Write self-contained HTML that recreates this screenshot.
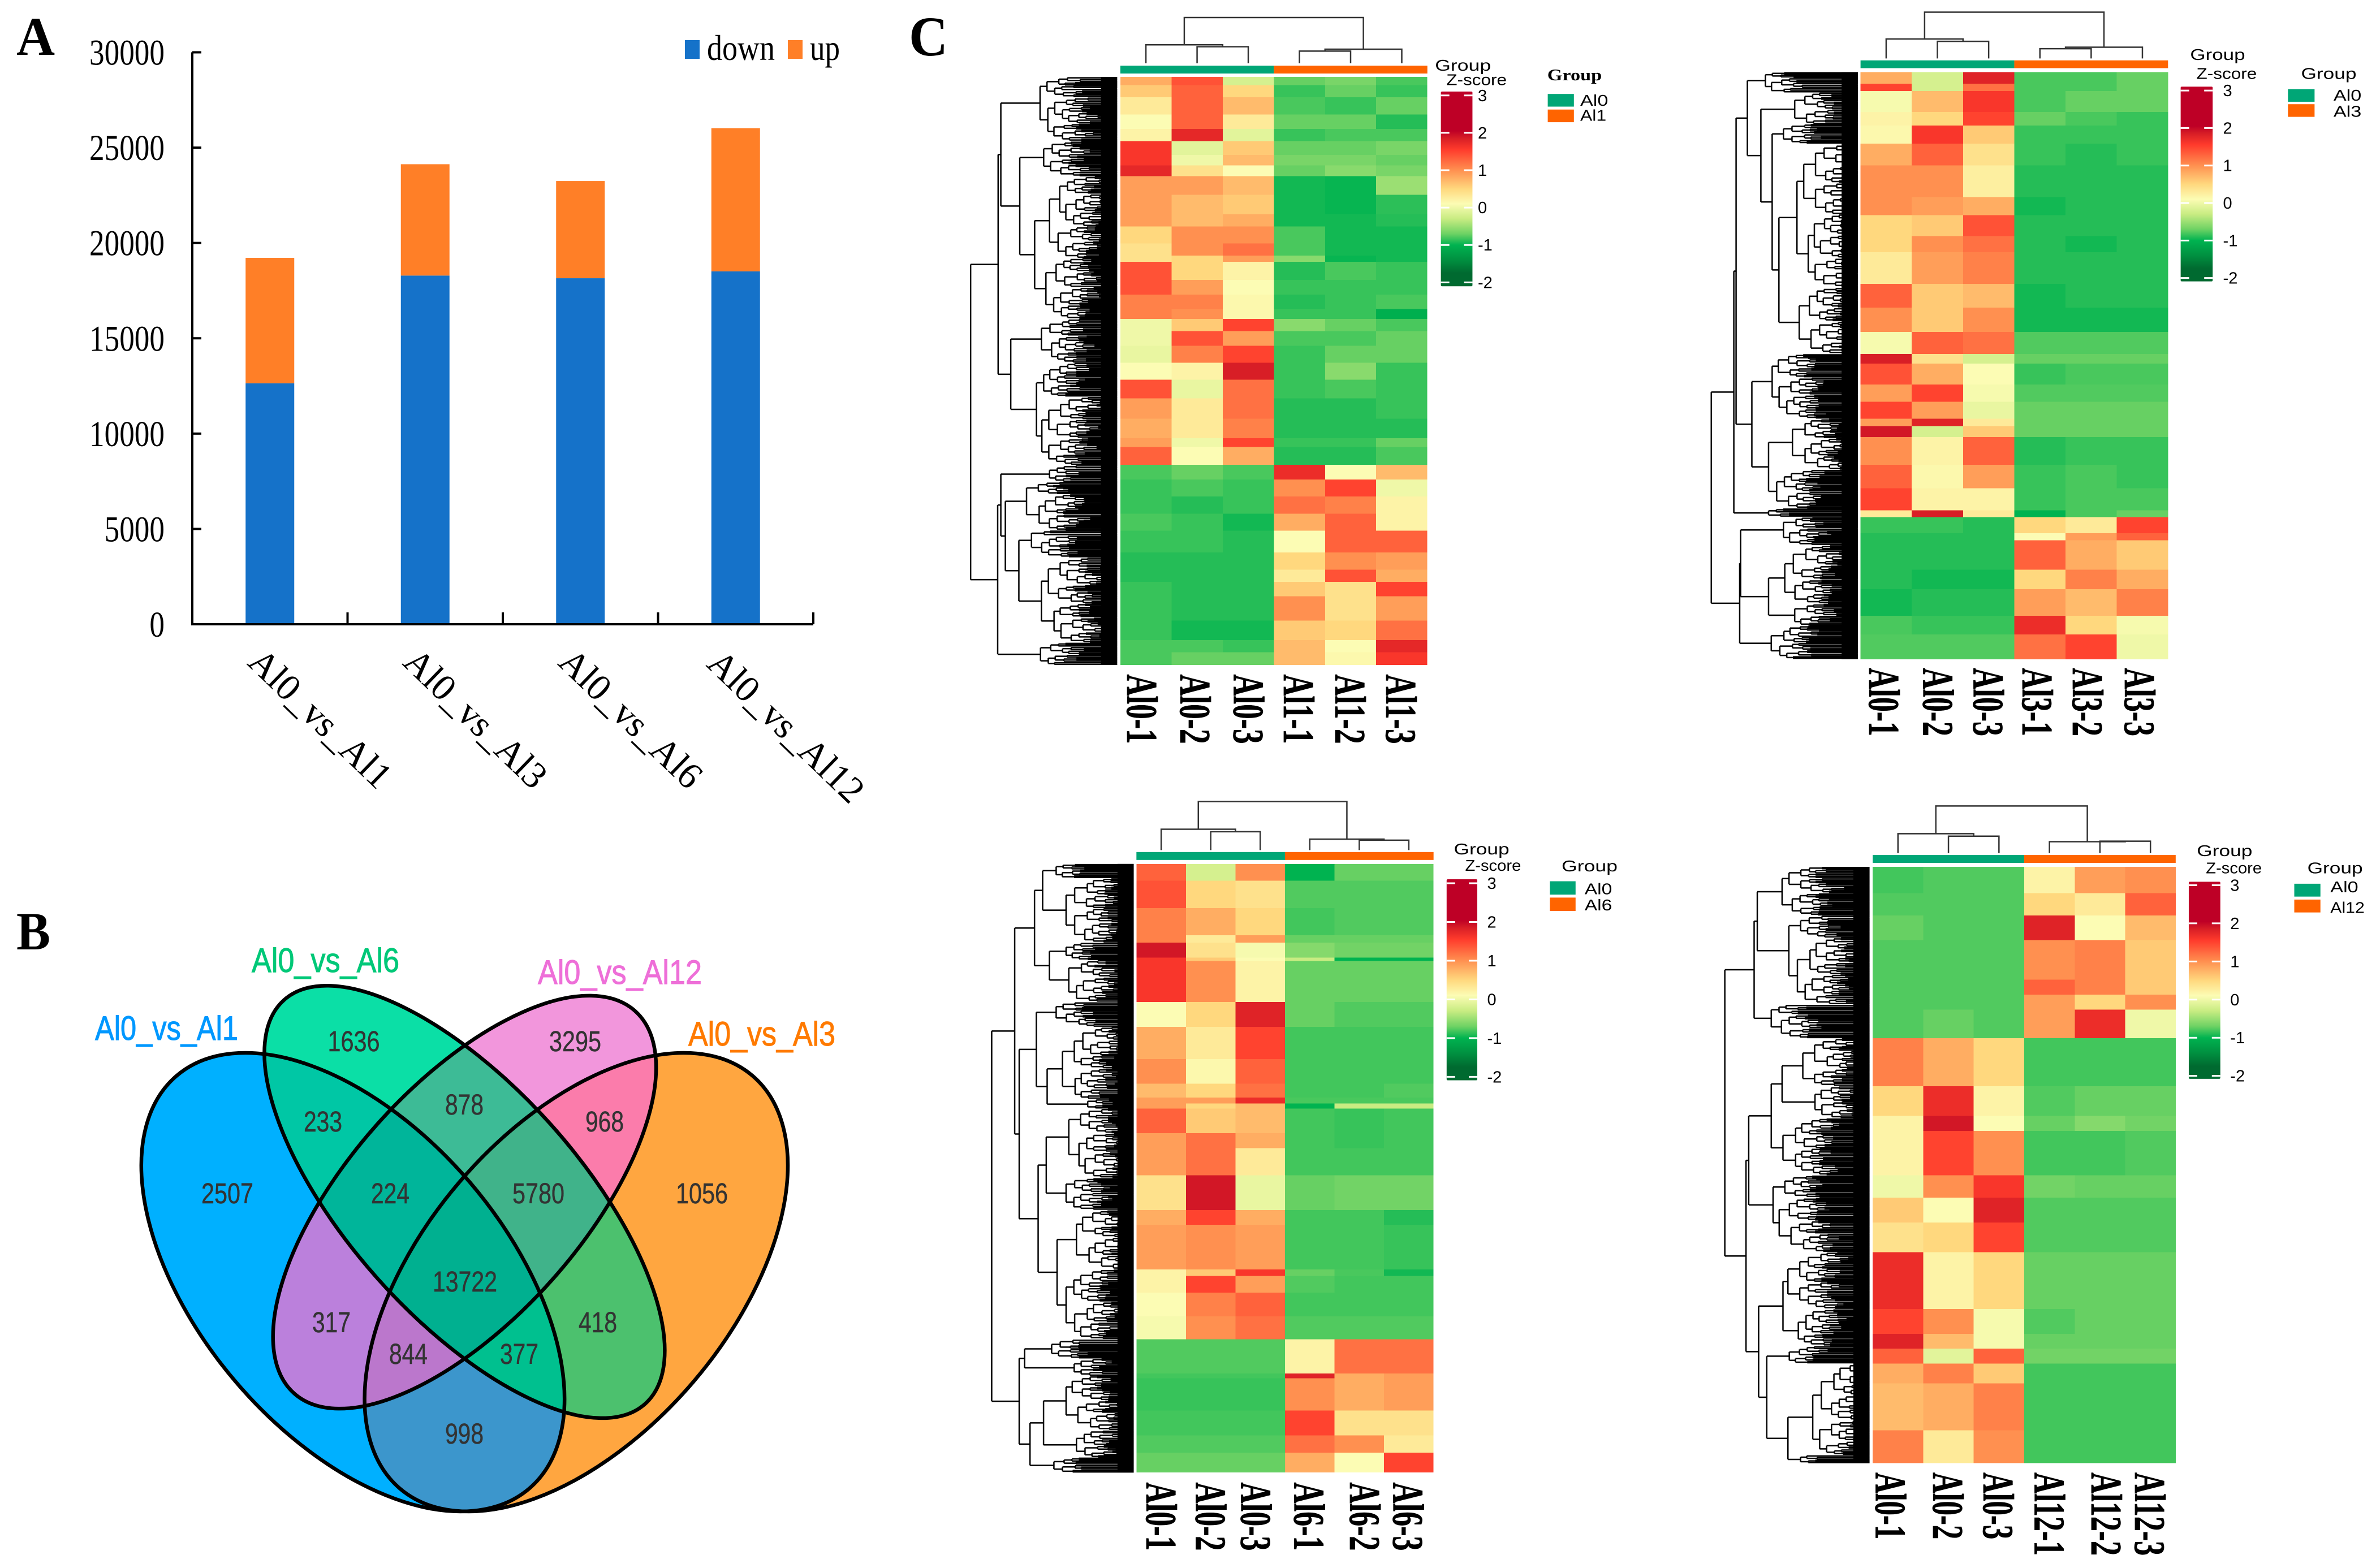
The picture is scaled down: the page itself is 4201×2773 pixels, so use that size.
<!DOCTYPE html>
<html lang="en">
<head>
<meta charset="utf-8">
<title>Al stress figure</title>
<style>
html,body{margin:0;padding:0;background:#fff}
svg{display:block}
.serif{font-family:"Liberation Serif",serif}
.sans{font-family:"Liberation Sans",sans-serif}
</style>
</head>
<body>
<svg id="fig" xmlns="http://www.w3.org/2000/svg" width="4201" height="2773" viewBox="0 0 4201 2773">
<rect width="4201" height="2773" fill="#fff"/>
<text class="serif" x="29" y="97" font-size="96" font-weight="bold" textLength="68" lengthAdjust="spacingAndGlyphs">A</text>
<text class="serif" x="29" y="1679" font-size="95" font-weight="bold" textLength="60" lengthAdjust="spacingAndGlyphs">B</text>
<text class="serif" x="1607" y="98" font-size="100" font-weight="bold" textLength="69" lengthAdjust="spacingAndGlyphs">C</text>

<g id="barChart"></g>

<g id="venn">
<defs>
<clipPath id="cb"><ellipse cx="624" cy="2267.5" rx="480" ry="272" transform="rotate(49.5 624 2267.5)"/></clipPath>
<clipPath id="co"><ellipse cx="1018.8" cy="2267.5" rx="480" ry="272" transform="rotate(-49.5 1018.8 2267.5)"/></clipPath>
<clipPath id="cg"><ellipse cx="821.4" cy="2125.6" rx="479" ry="205" transform="rotate(48.2 821.4 2125.6)"/></clipPath>
<clipPath id="cp"><ellipse cx="821.4" cy="2126" rx="453" ry="207" transform="rotate(-48.3 821.4 2126)"/></clipPath>
</defs>
<g clip-path="url(#cb)"><rect x="200" y="1700" width="1250" height="1000" fill="#00b0ff"/></g>
<g clip-path="url(#co)"><rect x="200" y="1700" width="1250" height="1000" fill="#ffa640"/></g>
<g clip-path="url(#cg)"><rect x="200" y="1700" width="1250" height="1000" fill="#0bdfa6"/></g>
<g clip-path="url(#cp)"><rect x="200" y="1700" width="1250" height="1000" fill="#f296dc"/></g>
<g clip-path="url(#cb)"><g clip-path="url(#cg)"><rect x="200" y="1700" width="1250" height="1000" fill="#00c7a5"/></g></g>
<g clip-path="url(#cb)"><g clip-path="url(#cp)"><rect x="200" y="1700" width="1250" height="1000" fill="#bb80dc"/></g></g>
<g clip-path="url(#cb)"><g clip-path="url(#co)"><rect x="200" y="1700" width="1250" height="1000" fill="#3c96cc"/></g></g>
<g clip-path="url(#cg)"><g clip-path="url(#cp)"><rect x="200" y="1700" width="1250" height="1000" fill="#3dbb96"/></g></g>
<g clip-path="url(#cg)"><g clip-path="url(#co)"><rect x="200" y="1700" width="1250" height="1000" fill="#4cc16e"/></g></g>
<g clip-path="url(#cp)"><g clip-path="url(#co)"><rect x="200" y="1700" width="1250" height="1000" fill="#fb7cab"/></g></g>
<g clip-path="url(#cb)"><g clip-path="url(#cg)"><g clip-path="url(#cp)"><rect x="200" y="1700" width="1250" height="1000" fill="#00b59a"/></g></g></g>
<g clip-path="url(#cb)"><g clip-path="url(#cg)"><g clip-path="url(#co)"><rect x="200" y="1700" width="1250" height="1000" fill="#00c08f"/></g></g></g>
<g clip-path="url(#cb)"><g clip-path="url(#cp)"><g clip-path="url(#co)"><rect x="200" y="1700" width="1250" height="1000" fill="#bb77cc"/></g></g></g>
<g clip-path="url(#cg)"><g clip-path="url(#cp)"><g clip-path="url(#co)"><rect x="200" y="1700" width="1250" height="1000" fill="#40b38a"/></g></g></g>
<g clip-path="url(#cb)"><g clip-path="url(#cg)"><g clip-path="url(#cp)"><g clip-path="url(#co)"><rect x="200" y="1700" width="1250" height="1000" fill="#00b090"/></g></g></g></g>
<g fill="none" stroke="#000" stroke-width="6.5">
<ellipse cx="624" cy="2267.5" rx="480" ry="272" transform="rotate(49.5 624 2267.5)"/>
<ellipse cx="1018.8" cy="2267.5" rx="480" ry="272" transform="rotate(-49.5 1018.8 2267.5)"/>
<ellipse cx="821.4" cy="2125.6" rx="479" ry="205" transform="rotate(48.2 821.4 2125.6)"/>
<ellipse cx="821.4" cy="2126" rx="453" ry="207" transform="rotate(-48.3 821.4 2126)"/>
</g>
<g class="sans" font-size="60" stroke-width="1">
<text x="168" y="1839" fill="#0098ff" stroke="#0098ff" textLength="253" lengthAdjust="spacingAndGlyphs">Al0_vs_Al1</text>
<text x="445" y="1719" fill="#00c878" stroke="#00c878" textLength="261" lengthAdjust="spacingAndGlyphs">Al0_vs_Al6</text>
<text x="951" y="1740" fill="#ee6fd8" stroke="#ee6fd8" textLength="290" lengthAdjust="spacingAndGlyphs">Al0_vs_Al12</text>
<text x="1217" y="1849" fill="#ff7a00" stroke="#ff7a00" textLength="260" lengthAdjust="spacingAndGlyphs">Al0_vs_Al3</text>
</g>
<g class="sans" font-size="51" fill="#333" stroke="#333" stroke-width=".5" text-anchor="middle">
<text x="402" y="2128" textLength="92" lengthAdjust="spacingAndGlyphs">2507</text>
<text x="625.5" y="1859" textLength="92" lengthAdjust="spacingAndGlyphs">1636</text>
<text x="1017" y="1859" textLength="92" lengthAdjust="spacingAndGlyphs">3295</text>
<text x="1241" y="2128" textLength="92" lengthAdjust="spacingAndGlyphs">1056</text>
<text x="571" y="2001" textLength="68" lengthAdjust="spacingAndGlyphs">233</text>
<text x="821" y="1971" textLength="68" lengthAdjust="spacingAndGlyphs">878</text>
<text x="1069" y="2001" textLength="68" lengthAdjust="spacingAndGlyphs">968</text>
<text x="690" y="2128" textLength="68" lengthAdjust="spacingAndGlyphs">224</text>
<text x="952" y="2128" textLength="92" lengthAdjust="spacingAndGlyphs">5780</text>
<text x="822" y="2284" textLength="114" lengthAdjust="spacingAndGlyphs">13722</text>
<text x="586" y="2356" textLength="68" lengthAdjust="spacingAndGlyphs">317</text>
<text x="1057" y="2356" textLength="68" lengthAdjust="spacingAndGlyphs">418</text>
<text x="722" y="2412" textLength="68" lengthAdjust="spacingAndGlyphs">844</text>
<text x="918" y="2412" textLength="68" lengthAdjust="spacingAndGlyphs">377</text>
<text x="821" y="2553" textLength="68" lengthAdjust="spacingAndGlyphs">998</text>
</g>
</g>

<g id="heatmaps"></g>
</svg>

<script>
/* ---------- Panel A data ---------- */
const barCategories = ['Al0_vs_Al1', 'Al0_vs_Al3', 'Al0_vs_Al6', 'Al0_vs_Al12'];
const downValues = [12640, 18290, 18150, 18510];
const upValues = [6580, 5840, 5100, 7510];
const yTickValues = [0, 5000, 10000, 15000, 20000, 25000, 30000];

/* ---------- Panel C data: gene counts per row cluster and z-scores per sample ---------- */
const zLegendTicks = [3, 2, 1, 0, -1, -2];

const hm1Samples = ['Al0-1','Al0-2','Al0-3','Al1-1','Al1-2','Al1-3'];
const hm1Groups = ['Al0','Al1'];
const hm1Counts = [17,25,35,30,25,28,22,22,38,40,25,35,25,13,37,30,30,20,25,30,35,35,38,42,40,18,37,30,35,35,35,45,35,25,30,50,40,25,26];
const hm1Z = [
[.8,1.4,-.2,-.72,-.65,-.8],[.6,1.3,.5,-.85,-.72,-.85],[.3,1.3,.7,-.8,-.85,-.72],[.1,1.3,.3,-.72,-.72,-.9],[.2,1.75,-.1,-.85,-.8,-.8],
[1.6,-.1,.6,-.72,-.72,-.65],[1.6,0,.7,-.65,-.65,-.72],[1.75,.4,.1,-.72,-.58,-.65],[.9,.9,.7,-.95,-.98,-.5],[.9,.7,.6,-.95,-.98,-.88],
[.9,.7,.8,-.95,-.95,-.9],[.5,1,1,-.8,-.95,-.95],[.4,1,1.2,-.8,-.95,-.95],[.4,.5,.9,-.58,-.98,-.95],[1.4,.5,.2,-.9,-.8,-.85],
[1.4,.9,.1,-.85,-.85,-.85],[1.1,1.1,.15,-.9,-.85,-.8],[1.1,1,.15,-.85,-.85,-1.05],[0,.6,1.5,-.58,-.72,-.8],[0,1.4,.9,-.8,-.8,-.72],
[-.05,1.1,1.5,-.85,-.72,-.72],[.1,.2,1.85,-.85,-.58,-.85],[1.4,-.05,1.2,-.85,-.8,-.85],[.9,.3,1.2,-.9,-.9,-.85],[.8,.3,1.1,-.9,-.9,-.9],
[.9,0,1.5,-.85,-.85,-.72],[1.3,.1,.8,-.9,-.9,-.8],[-.8,-.72,-.8,1.7,.1,.7],[-.85,-.8,-.85,1,1.5,0],[-.85,-.9,-.85,1.2,1.1,.2],
[-.8,-.85,-.95,.8,1.3,.2],[-.85,-.85,-.9,.1,1.3,1.3],[-.9,-.9,-.9,.5,1,.9],[-.9,-.9,-.9,.3,1.4,.8],[-.85,-.9,-.9,.6,.4,1.5],
[-.85,-.9,-.9,1,.4,.9],[-.85,-.95,-.95,.6,.5,1.2],[-.8,-.8,-.85,.7,.1,1.75],[-.8,-.72,-.72,.7,.15,1.6]];

const hm2Samples = ['Al0-1','Al0-2','Al0-3','Al3-1','Al3-2','Al3-3'];
const hm2Groups = ['Al0','Al3'];
const hm2Counts = [24,15,43,28,37,45,65,37,43,33,65,49,50,45,20,43,35,35,15,23,57,48,45,14,33,15,60,40,55,38,51];
const hm2Z = [
[.8,-.2,1.8,-.8,-.8,-.72],[1.5,-.2,1.2,-.8,-.8,-.72],[.05,.7,1.6,-.8,-.72,-.72],[.2,.5,1.5,-.72,-.8,-.85],[.15,1.6,.6,-.85,-.85,-.85],
[.8,1.3,.4,-.85,-.9,-.85],[1,1,.25,-.9,-.9,-.9],[1,.9,.8,-.95,-.9,-.9],[.5,.6,1.4,-.9,-.9,-.9],[.5,1,1.2,-.9,-.95,-.9],
[.3,.9,1.1,-.9,-.9,-.9],[1.3,.6,.7,-.95,-.9,-.9],[1,.6,1,-.95,-.95,-.95],[.05,1.3,1.2,-.78,-.78,-.78],[1.85,.4,-.2,-.72,-.72,-.72],
[1.4,.8,.1,-.85,-.8,-.8],[.9,1.5,.05,-.78,-.78,-.78],[1.5,.9,-.05,-.72,-.72,-.72],[.9,1.8,.3,-.72,-.72,-.72],[1.9,-.2,.6,-.72,-.72,-.72],
[1,.2,1.3,-.9,-.85,-.85],[1.3,.15,.9,-.85,-.8,-.85],[1.5,.2,.2,-.85,-.8,-.8],[.3,1.85,.3,-1,-.8,-.72],[-.85,-.85,-.9,.5,.3,1.5],
[-.9,-.9,-.9,.1,.9,1.3],[-.9,-.9,-.9,1.3,.8,.6],[-.9,-.95,-.95,.5,1.1,.8],[-.95,-.9,-.9,.9,.7,1.1],[-.8,-.85,-.85,1.7,.5,.05],[-.78,-.78,-.78,1.2,1.5,0]];

const hm3Samples = ['Al0-1','Al0-2','Al0-3','Al6-1','Al6-2','Al6-3'];
const hm3Groups = ['Al0','Al6'];
const hm3Counts = [34,55,55,15,30,7,83,50,65,50,28,12,10,50,30,55,70,30,90,13,34,48,46,69,10,65,50,35,40];
const hm3Z = [
[1.3,-.2,1,-1,-.72,-.72],[1.4,.5,.4,-.78,-.78,-.78],[1.1,.8,.5,-.82,-.78,-.78],[1.1,.3,.9,-.72,-.72,-.72],[1.9,.4,.05,-.6,-.68,-.68],
[1.6,.6,.1,-.3,-1,-1],[1.6,1,.2,-.72,-.72,-.72],[.1,.5,1.8,-.72,-.78,-.78],[.8,.3,1.5,-.82,-.82,-.82],[1,.15,1.3,-.82,-.82,-.82],
[.7,.5,1.2,-.82,-.82,-.78],[.9,.9,1.7,-.8,-.8,-.8],[.9,.5,.7,-1,-.3,-.3],[1.3,.6,.7,-.82,-.85,-.82],[.9,1.2,.8,-.82,-.85,-.82],
[.9,1.2,.3,-.82,-.82,-.82],[.4,1.9,-.05,-.72,-.68,-.68],[.8,1.5,.8,-.82,-.82,-.9],[.9,1,.9,-.82,-.82,-.85],[.2,.6,1.6,-.72,-.8,-.95],
[.2,1.5,.9,-.78,-.82,-.82],[.1,1.1,1.3,-.82,-.82,-.82],[.05,1,1.2,-.78,-.78,-.78],[-.78,-.78,-.78,.2,1.2,1.2],[-.82,-.82,-.82,1.8,.8,.9],
[-.85,-.85,-.85,1,.8,.9],[-.82,-.82,-.82,1.5,.4,.4],[-.78,-.78,-.78,1.2,1,.3],[-.72,-.72,-.72,.8,.1,1.5]];

const hm4Samples = ['Al0-1','Al0-2','Al0-3','Al12-1','Al12-2','Al12-3'];
const hm4Groups = ['Al0','Al12'];
const hm4Counts = [53,45,50,80,30,30,58,97,60,30,90,45,50,60,115,50,30,30,40,95,66];
const hm4Z = [
[-.82,-.78,-.78,.2,.9,1],[-.78,-.78,-.78,.5,.3,1.3],[-.72,-.78,-.78,1.8,.1,.7],[-.78,-.78,-.78,1,1.1,.6],[-.78,-.78,-.78,1.3,1.1,.6],
[-.78,-.78,-.78,.9,.5,1],[-.78,-.72,-.78,.9,1.7,0],[1.1,.8,.5,-.82,-.82,-.82],[.5,1.7,.2,-.78,-.72,-.72],[.2,1.9,.1,-.72,-.6,-.68],
[.2,1.5,1,-.82,-.82,-.78],[0,1,1.6,-.68,-.72,-.72],[.6,.1,1.8,-.78,-.78,-.78],[.4,.5,1.5,-.78,-.78,-.78],[1.7,.2,.5,-.72,-.72,-.72],
[1.5,1,.05,-.78,-.72,-.72],[1.8,.7,.05,-.72,-.72,-.72],[1.3,-.1,1.3,-.68,-.68,-.68],[.8,1.1,.6,-.82,-.82,-.82],[.7,.8,1.1,-.82,-.82,-.82],[1.1,.3,1,-.82,-.82,-.82]];

/* sample dendrograms: [height, childA, childB]; a number is a column index */
const hm1ColTree = [94,[38,0,[34,1,2]],[29,[25,3,4],5]];
const hm2ColTree = [95,[40,0,[35,1,2]],[23,[20,3,4],5]];
const hm3ColTree = [98,[42,0,[37,1,2]],[22,3,[20,4,5]]];
const hm4ColTree = [95,[39,0,[34,1,2]],[23,3,[24,4,5]]];

/* gene dendrograms: [depth, childA, childB]; a [from, to] pair is a leaf cluster */
const hm1RowTree = [83,[144,[150,[237,[158,200],[200,290]],[192,[245,[290,325],[325,362]],[225,[258,[362,465],[465,530]],[250,[530,590],[590,655]]]]],
[172,[240,[655,690],[690,745]],[229,[245,[745,790],[790,815]],[241,[815,900],[900,955]]]]],
[143,[150,[258,[955,975],[975,990]],[160,[207,[990,1015],[1015,1090]],[190,[218,[1090,1100],[1100,1145]],[240,[1145,1240],[1240,1320]]]]],[238,[1320,1345],[1345,1366]]]];
const hm2RowTree = [95,[145,[150,[175,[215,[148,160],[160,190]],[205,[280,[190,225],[225,255]],[230,[255,[255,275],[275,295]],[245,[285,[300,[295,375],[375,440]],[310,[440,530],[530,590]]],[290,[590,660],[660,727]]]]]],
[185,[230,[727,775],[775,860]],[222,[275,[860,900],[900,965]],[240,[965,1010],[1010,1045]]]]],[222,[1045,1053],[1053,1062]]],
[158,[160,[255,[1062,1085],[1085,1120]],[222,[258,[1120,1190],[1190,1240]],[280,[1240,1265],[1265,1285]]]],[228,[1285,1320],[1320,1354]]]];
const hm3RowTree = [67,[118,[162,[180,[210,[146,158],[158,175]],[232,[175,235],[235,305]]],[195,[232,[305,322],[322,340]],[238,[340,375],[375,425]]]],
[128,[166,[210,[425,442],[442,475]],[190,[224,[475,560],[560,620]],[280,[620,632],[632,640]]]],[170,[188,[238,[640,690],[690,780]],[232,[780,810],[810,845]]],[212,[255,[845,900],[900,965]],[232,[965,1030],[1030,1106]]]]]],
[128,[140,[200,[1106,1125],[1125,1145]],[250,[1145,1165],[1165,1180]]],[152,[182,[232,[1180,1230],[1230,1290]],[255,[1290,1320],[1320,1345]]],[205,[1345,1360],[1360,1375]]]]];
const hm4RowTree = [125,[190,[197,[252,[152,205],[205,250]],[267,[250,295],[295,430]]],[228,[430,450],[450,498]]],
[172,[178,[228,[252,[298,[498,560],[560,595]],[325,[595,625],[625,660]]],[254,[660,720],[720,775]]],[232,[775,820],[820,930]]],
[200,[254,[265,[930,990],[990,1045]],[288,[1045,1095],[1095,1120]]],[218,[268,[1120,1140],[1140,1155]],[265,[320,[1155,1270],[1270,1340]],[1340,1356]]]]]];

/* ---------- helpers ---------- */
const NS = 'http://www.w3.org/2000/svg';
function mk(tag, attrs, parent, text) {
  const n = document.createElementNS(NS, tag);
  for (const k in attrs) n.setAttribute(k, attrs[k]);
  if (text !== undefined) n.textContent = text;
  if (parent) parent.appendChild(n);
  return n;
}

/* ---------- Panel A ---------- */
(function () {
  const root = document.getElementById('barChart');
  const axisX = 340, axisRight = 1438, axisBottom = 1104, axisTop = 92.5, yMax = 30000;
  const yScale = v => axisBottom - v / yMax * (axisBottom - axisTop);
  const band = (axisRight - axisX) / barCategories.length;
  const xCenter = i => axisX + (i + .5) * band;
  const barW = 86;
  const rotatedY = [1272, 1272, 1272, 1286];

  barCategories.forEach((c, i) => {
    const d = mk('rect', {x: xCenter(i) - barW / 2, y: yScale(downValues[i]), width: barW, height: yScale(0) - yScale(downValues[i]), fill: '#1572c9'}, root);
    
    
    const u = mk('rect', {x: xCenter(i) - barW / 2, y: yScale(downValues[i] + upValues[i]), width: barW, height: yScale(downValues[i]) - yScale(downValues[i] + upValues[i]), fill: '#ff7f27'}, root);
    
    
    const cx = xCenter(i) + 88;
    const t = mk('text', {class: 'serif', 'font-size': 66, 'text-anchor': 'middle', transform: 'translate(' + cx + ' ' + rotatedY[i] + ') rotate(44)', y: 20}, root, c);
    
    
  });

  const ya = mk('path', {d: 'M' + axisX + ' ' + axisTop + 'V' + axisBottom, stroke: '#000', 'stroke-width': 4, fill: 'none'}, root);
  
  
  const xa = mk('path', {d: 'M' + (axisX - 2) + ' ' + axisBottom + 'H' + axisRight, stroke: '#000', 'stroke-width': 4, fill: 'none'}, root);
  
  

  yTickValues.forEach(v => {
    const tk = mk('path', {d: 'M' + axisX + ' ' + yScale(v) + 'h16', stroke: '#000', 'stroke-width': 4}, root);
    
    
    const s = String(v);
    const lb = mk('text', {class: 'serif', x: 291, y: yScale(v) + 22, 'font-size': 65, 'text-anchor': 'end', textLength: 26.6 * s.length, lengthAdjust: 'spacingAndGlyphs'}, root, s);
    
    
  });
  barCategories.forEach((c, i) => {
    const tk = mk('path', {d: 'M' + (axisX + (i + 1) * band) + ' ' + axisBottom + 'v-21', stroke: '#000', 'stroke-width': 4}, root);
    
    
  });

  const s1 = mk('rect', {x: 1211, y: 71, width: 26, height: 33, fill: '#1572c9'}, root);
  
  
  const t1 = mk('text', {class: 'serif', x: 1250, y: 106, 'font-size': 64, textLength: 120, lengthAdjust: 'spacingAndGlyphs'}, root, 'down');
  
  
  const s2 = mk('rect', {x: 1393, y: 71, width: 26, height: 33, fill: '#ff7f27'}, root);
  
  
  const t2 = mk('text', {class: 'serif', x: 1432, y: 106, 'font-size': 64, textLength: 53, lengthAdjust: 'spacingAndGlyphs'}, root, 'up');
  
  
})();

/* ---------- Panel C ---------- */
const colorStops = [[3,[190,0,38]],[2.05,[190,0,38]],[1.85,[216,30,38]],[1.55,[255,59,44]],[1,[255,144,80]],[.5,[255,216,126]],[.1,[252,252,180]],[-.3,[200,236,130]],[-.7,[110,210,100]],[-1,[0,179,80]],[-1.4,[0,144,64]],[-1.75,[0,106,48]],[-2,[0,106,48]]];
function zColor(z) {
  const c = Math.max(-2, Math.min(3, z));
  for (let i = 0; i < colorStops.length - 1; i++) {
    const a = colorStops[i], b = colorStops[i + 1];
    if (c <= a[0] && c >= b[0]) {
      const t = a[0] === b[0] ? 0 : (a[0] - c) / (a[0] - b[0]);
      return 'rgb(' + [0, 1, 2].map(k => Math.round(a[1][k] + (b[1][k] - a[1][k]) * t)).join(',') + ')';
    }
  }
  return 'rgb(0,106,48)';
}

const KX = 1250 / 1568;
const fracCycle = [.42, .6, .35, .55, .68, .47];
const stepCycle = [.3, .9, .5, 1, .2, .7, .4];

function buildHeatmap(p, idx) {
  const root = document.getElementById('heatmaps');
  const g = mk('g', {}, root);
  
  
  const fx = z => p.ox + z * KX;
  const fy = z => p.oy + z * p.sy;
  const colX = i => fx(p.x0) + i * (fx(p.x1) - fx(p.x0)) / 6;
  const total = p.counts.reduce((a, b) => a + b, 0);
  const rowY = c => fy(p.y0) + c / total * (fy(p.y1) - fy(p.y0));

  /* cells */
  let cum = 0;
  p.counts.forEach((count, r) => {
    p.values[r].forEach((z, c) => {
      const cell = mk('rect', {x: colX(c), y: rowY(cum), width: colX(c + 1) - colX(c), height: rowY(cum + count) - rowY(cum), fill: zColor(z), 'shape-rendering': 'crispEdges'}, g);
      
      
    });
    cum += count;
  });

  /* annotation bar */
  const a0 = mk('rect', {x: colX(0), y: fy(p.ann[0]), width: colX(3) - colX(0), height: fy(p.ann[1]) - fy(p.ann[0]), fill: '#00a676'}, g);
  
  
  const a1 = mk('rect', {x: colX(3), y: fy(p.ann[0]), width: colX(6) - colX(3), height: fy(p.ann[1]) - fy(p.ann[0]), fill: '#ff6400'}, g);
  
  

  /* sample dendrogram */
  let dc = '';
  const colCenter = i => (colX(i) + colX(i + 1)) / 2;
  function drawCol(n) {
    if (typeof n === 'number') return {x: colCenter(n), y: fy(p.leafY)};
    const a = drawCol(n[1]), b = drawCol(n[2]);
    const y = fy(p.leafY - n[0]);
    dc += 'M' + a.x + ' ' + a.y + 'V' + y + 'H' + b.x + 'V' + b.y;
    return {x: (a.x + b.x) / 2, y: y};
  }
  drawCol(p.colTree);
  const cd = mk('path', {d: dc, fill: 'none', stroke: '#333', 'stroke-width': 2.5}, g);
  
  

  /* gene dendrogram */
  let dr = '';
  let counter = 0;
  const bandX = p.band;
  function twig(px, y0, y1) {
    const h = y1 - y0;
    if (h < 4.2) {
      const m = (y0 + y1) / 2;
      dr += 'M' + fx(px) + ' ' + fy(m) + 'H' + fx(bandX);
      return m;
    }
    const st = stepCycle[counter % stepCycle.length];
    const fr = fracCycle[counter % fracCycle.length];
    counter++;
    const nx = Math.min(px + 10 + 18 * st, bandX - 2);
    const s = y0 + h * fr;
    const a = twig(nx, y0, s), b = twig(nx, s, y1);
    dr += 'M' + fx(nx) + ' ' + fy(a) + 'V' + fy(b);
    const m = (a + b) / 2;
    dr += 'M' + fx(px) + ' ' + fy(m) + 'H' + fx(nx);
    return m;
  }
  function drawRow(n, px) {
    if (!Array.isArray(n[1])) return twig(px, n[0], n[1]);
    const a = drawRow(n[1], n[0]), b = drawRow(n[2], n[0]);
    dr += 'M' + fx(n[0]) + ' ' + fy(a) + 'V' + fy(b);
    const m = (a + b) / 2;
    if (px !== null) dr += 'M' + fx(px) + ' ' + fy(m) + 'H' + fx(n[0]);
    return m;
  }
  drawRow(p.rowTree, null);
  const rd = mk('path', {d: dr, fill: 'none', stroke: '#000', 'stroke-width': 2.5}, g);
  
  
  const bk = mk('rect', {x: fx(bandX - 36), y: fy(p.y0), width: fx(bandX) - fx(bandX - 36), height: fy(p.y1) - fy(p.y0), fill: '#000'}, g);
  
  

  /* sample labels */
  p.samples.forEach((s, i) => {
    const len = (p.labelLen[i] - p.labelY0) * p.sy;
    const t = mk('text', {class: 'serif', 'font-size': 77, 'font-weight': 'bold', stroke: '#000', 'stroke-width': .8, textLength: len, lengthAdjust: 'spacingAndGlyphs', transform: 'translate(' + fx(p.labelLeft[i]) + ' ' + fy(p.labelY0) + ') rotate(90)'}, g, s);
    
    
  });

  /* colour bar */
  const gradId = 'zgrad' + idx;
  const tY = v => fy(p.tickTop) + (3 - v) / 5 * (fy(p.tickBot) - fy(p.tickTop));
  const defs = mk('defs', {}, g);
  const lg = mk('linearGradient', {id: gradId, gradientUnits: 'userSpaceOnUse', x1: 0, x2: 0, y1: tY(3), y2: tY(-2)}, defs);
  colorStops.forEach(st => {
    mk('stop', {offset: (3 - st[0]) / 5, 'stop-color': 'rgb(' + st[1].join(',') + ')'}, lg);
  });
  const bar = mk('rect', {x: fx(p.bar[0]), y: fy(p.bar[2]), width: fx(p.bar[1]) - fx(p.bar[0]), height: fy(p.bar[3]) - fy(p.bar[2]), fill: 'url(#' + gradId + ')', rx: 2}, g);
  
  
  zLegendTicks.forEach(v => {
    const d = mk('path', {d: 'M' + fx(p.bar[0]) + ' ' + tY(v) + 'h15M' + (fx(p.bar[1]) - 15) + ' ' + tY(v) + 'h15', stroke: '#fff', 'stroke-width': 3}, g);
    
    
    const l = mk('text', {class: 'sans', x: fx(p.tickLabelX), y: tY(v) + 10, 'font-size': 29}, g, String(v));
    
    
  });
  const gt = mk('text', {class: 'sans', x: fx(p.gTitle[0]), y: fy(p.gTitle[2]), 'font-size': 28, textLength: (p.gTitle[1] - p.gTitle[0]) * KX, lengthAdjust: 'spacingAndGlyphs'}, g, 'Group');
  
  
  const zt = mk('text', {class: 'sans', x: fx(p.zTitle[0]), y: fy(p.zTitle[2]), 'font-size': 28, textLength: (p.zTitle[1] - p.zTitle[0]) * KX, lengthAdjust: 'spacingAndGlyphs'}, g, 'Z-score');
  
  

  /* group legend */
  const lt = mk('text', {class: idx === 0 ? 'serif' : 'sans', x: fx(p.lgTitle[0]), y: fy(p.lgTitle[2]), 'font-size': 28, 'font-weight': idx === 0 ? 'bold' : 'normal', textLength: (p.lgTitle[1] - p.lgTitle[0]) * KX, lengthAdjust: 'spacingAndGlyphs'}, g, 'Group');
  
  
  const sa = mk('rect', {x: fx(p.sq[0]), y: fy(p.sq[2]), width: fx(p.sq[1]) - fx(p.sq[0]), height: fy(p.sq[3]) - fy(p.sq[2]), fill: '#00a676'}, g);
  
  
  const sb = mk('rect', {x: fx(p.sq[0]), y: fy(p.sq[4]), width: fx(p.sq[1]) - fx(p.sq[0]), height: fy(p.sq[5]) - fy(p.sq[4]), fill: '#ff6400'}, g);
  
  
  const la = mk('text', {class: 'sans', x: fx(p.lgLabel[0]), y: fy(p.lgBase[0]), 'font-size': 28, textLength: (p.lgLabel[1] - p.lgLabel[0]) * KX, lengthAdjust: 'spacingAndGlyphs'}, g, p.groups[0]);
  
  
  const lb = mk('text', {class: 'sans', x: fx(p.lgLabel[0]), y: fy(p.lgBase[1]), 'font-size': 28, textLength: (p.lgLabel[2] - p.lgLabel[0]) * KX, lengthAdjust: 'spacingAndGlyphs'}, g, p.groups[1]);
  
  
}

const layouts = [
 {ox:1650,oy:0,sy:1350/1568,x0:415,x1:1096,y0:158,y1:1366,ann:[135,151],band:408,leafY:130,bar:[1126,1196,188,588],tickTop:196,tickBot:580,tickLabelX:1208,gTitle:[1113,1237,145],zTitle:[1138,1272,175],lgTitle:[1362,1483,165],sq:[1363,1421,193,219,225,251],lgLabel:[1435,1497,1493],lgBase:[217,248],labelLeft:[430,548,667,778,892,1005],labelY0:1385,labelLen:[1528,1528,1528,1528,1528,1528],counts:hm1Counts,values:hm1Z,samples:hm1Samples,groups:hm1Groups,colTree:hm1ColTree,rowTree:hm1RowTree},
 {ox:2950,oy:0,sy:1350/1568,x0:426,x1:1108,y0:148,y1:1354,ann:[124,140],band:420,leafY:120,bar:[1136,1207,178,578],tickTop:186,tickBot:571,tickLabelX:1230,gTitle:[1157,1279,123],zTitle:[1171,1305,162],lgTitle:[1403,1526,162],sq:[1374,1433,183,209,214,240],lgLabel:[1475,1537,1537],lgBase:[207,240],labelLeft:[445,565,677,785,897,1012],labelY0:1372,labelLen:[1512,1512,1512,1512,1512,1512],counts:hm2Counts,values:hm2Z,samples:hm2Samples,groups:hm2Groups,colTree:hm2ColTree,rowTree:hm2RowTree},
 {ox:1700,oy:1400,sy:1373/1568,x0:388,x1:1047,y0:146,y1:1375,ann:[122,138],band:382,leafY:118,bar:[1076,1144,177,583],tickTop:185,tickBot:576,tickLabelX:1166,gTitle:[1092,1215,127],zTitle:[1117,1241,160],lgTitle:[1331,1455,161],sq:[1305,1362,181,208,214,241],lgLabel:[1382,1443,1443],lgBase:[207,240],labelLeft:[410,520,620,738,862,958],labelY0:1395,labelLen:[1533,1533,1533,1533,1533,1533],counts:hm3Counts,values:hm3Z,samples:hm3Samples,groups:hm3Groups,colTree:hm3ColTree,rowTree:hm3RowTree},
 {ox:2950,oy:1400,sy:1373/1568,x0:453,x1:1125,y0:152,y1:1356,ann:[128,144],band:446,leafY:124,bar:[1154,1224,182,580],tickTop:189,tickBot:574,tickLabelX:1246,gTitle:[1172,1295,130],zTitle:[1192,1316,165],lgTitle:[1417,1540,165],sq:[1388,1446,186,212,218,244],lgLabel:[1468,1530,1544],lgBase:[203,245],labelLeft:[460,587,699,812,938,1035],labelY0:1375,labelLen:[1510,1510,1510,1543,1543,1543],counts:hm4Counts,values:hm4Z,samples:hm4Samples,groups:hm4Groups,colTree:hm4ColTree,rowTree:hm4RowTree}
];
layouts.forEach(buildHeatmap);
</script>
</body>
</html>
